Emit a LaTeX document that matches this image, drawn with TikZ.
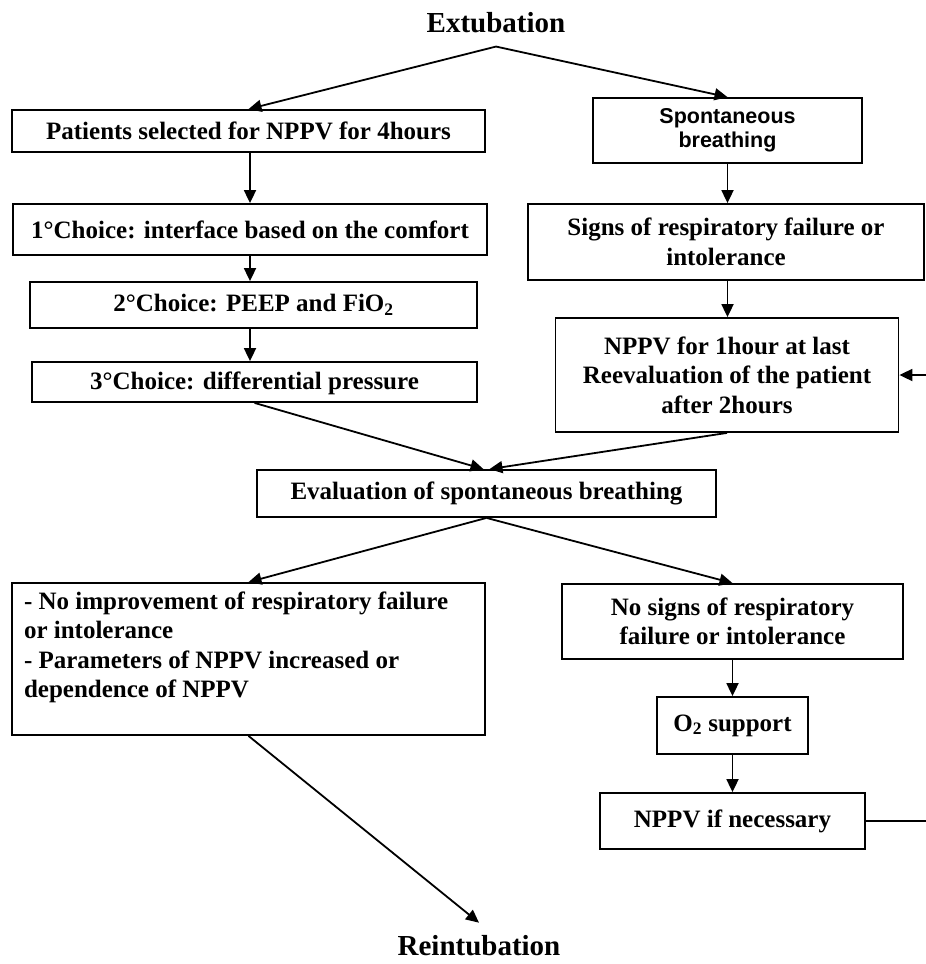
\documentclass[tikz,border=0pt]{standalone}
\usepackage{fontspec}
\setmainfont{Liberation Serif}
\newfontfamily\arialfont{Liberation Sans}
\usetikzlibrary{arrows.meta}
\begin{document}
\begin{tikzpicture}[x=1pt,y=-1pt,
  box/.style={draw, line width=1.8pt, inner sep=0pt, align=center,
    font=\bfseries\fontsize{25}{29.5}\selectfont},
  title/.style={font=\bfseries\fontsize{29}{34}\selectfont, inner sep=0pt},
  conn/.style={line width=1.8pt, -{Triangle[length=13pt,width=12pt]}},
  plainline/.style={line width=1.8pt}
]
\useasboundingbox (0,0) rectangle (926,964);
\fill[white] (0,0) rectangle (926,964);

% titles
\node[title, anchor=base, inner ysep=14pt] (ext) at (496,32) {Extubation};
\node[title, anchor=base, inner xsep=0pt, inner ysep=12pt] (reint) at (479,955) {Reintubation};

% left column
\node[box, minimum width=473pt, minimum height=42pt] (pat) at (248.5,131) {Patients selected for NPPV for 4hours};
\node[box, minimum width=474pt, minimum height=51pt] (c1) at (250,229.5) {1°Choice: interface based on the comfort};
\node[box, minimum width=447pt, minimum height=46pt] (c2) at (253.5,305) {2°Choice: PEEP and FiO\textsubscript{2}};
\node[box, minimum width=445pt, minimum height=40pt, text depth=2pt] (c3) at (254.5,382) {3°Choice: differential pressure};

% right column
\node[box, minimum width=269pt, minimum height=65pt, font=\arialfont\bfseries\fontsize{21.5}{24}\selectfont] (spont) at (727.5,130.5) {Spontaneous\\breathing};
\node[box, minimum width=396pt, minimum height=76pt] (signs) at (726,242) {Signs of respiratory failure or\\intolerance};
\node[box, minimum width=343pt, minimum height=114pt] (nppv1) at (727,375) {NPPV for 1hour at last\\Reevaluation of the patient\\after 2hours};

% middle
\node[box, minimum width=459pt, minimum height=47pt] (eval) at (486.5,493.5) {Evaluation of spontaneous breathing};

% lower
\node[box, inner xsep=12pt, inner ysep=0.5pt, minimum width=473pt, minimum height=152pt] (noimp) at (248.5,659)
  {\parbox[t][150pt][t]{449pt}{\raggedright\rule{0pt}{25pt}- No improvement of respiratory failure\\or intolerance\\- Parameters of NPPV increased or\\dependence of NPPV}};
\node[box, minimum width=341pt, minimum height=75pt] (nosigns) at (732.5,621.5) {No signs of respiratory\\failure or intolerance};
\node[box, minimum width=151pt, minimum height=57pt] (o2) at (732.5,725.5) {O\textsubscript{2} support};
\node[box, minimum width=265pt, minimum height=56pt] (nppvn) at (732.5,821) {NPPV if necessary};

\coordinate (fb) at (945,821);

% connectors
\draw[conn] (ext.south) -- (pat.north);
\draw[conn] (ext.south) -- (spont.north);
\draw[conn] (c1.north |- pat.south) -- (c1.north);
\draw[conn] (c1.south) -- (c1.south |- c2.north);
\draw[conn] (c1.south |- c2.south) -- (c1.south |- c3.north);
\draw[conn] (c3.south) -- ([xshift=-3pt]eval.north);
\draw[conn] (spont.south) -- (spont.south |- signs.north);
\draw[conn] (spont.south |- signs.south) -- (spont.south |- nppv1.north);
\draw[conn] (nppv1.south) -- ([xshift=3pt]eval.north);
\draw[conn] (eval.south) -- (noimp.north);
\draw[conn] (eval.south) -- (nosigns.north);
\draw[conn] (noimp.south) -- (reint.north);
\draw[conn] (nosigns.south) -- (o2.north);
\draw[conn] (o2.south) -- (nppvn.north);
\draw[conn] (nppvn.east) -- (fb) |- (nppv1.east);
\end{tikzpicture}
\end{document}
